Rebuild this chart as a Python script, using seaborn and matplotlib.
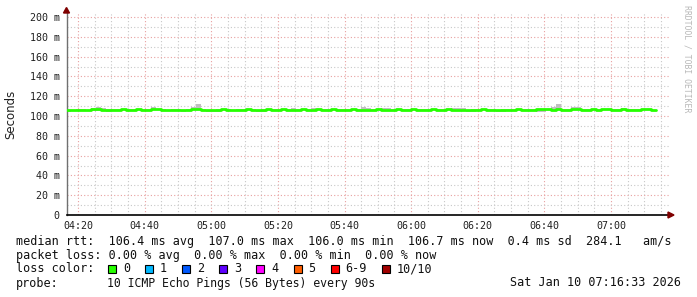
import matplotlib
matplotlib.use("Agg")
import matplotlib.pyplot as plt
import seaborn as sns
import pandas as pd
import numpy as np
from matplotlib.patches import Rectangle, Polygon

# ---------------- data ----------------
start_minute = 256.5          # 04:16:30, minutes since midnight
step_minutes = 1.5            # 90 s probe interval

median_ms = [
    106.2, 105.9, 106.4, 106.5, 106.1, 106.6, 106.6, 106.5, 106.2, 106.5,
    106.3, 106.6, 106.2, 106.4, 106.6, 106.2, 106.4, 106.9, 106.6, 106.5,
    106.2, 106.4, 106.2, 106.1, 106.4, 106.6, 106.7, 106.3, 106.2, 106.1,
    106.5, 106.6, 106.4, 106.2, 106.5, 106.3, 106.6, 106.4, 106.0, 106.3,
    106.6, 106.5, 106.3, 106.7, 106.4, 106.5, 106.3, 106.6, 106.4, 106.3,
    106.6, 106.3, 106.5, 106.6, 106.3, 106.5, 106.3, 106.6, 106.4, 106.5,
    106.3, 106.4, 106.7, 106.5, 106.4, 106.3, 106.6, 106.3, 106.4, 106.6,
    106.5, 106.3, 106.5, 106.7, 106.4, 106.3, 106.6, 106.5, 106.3, 106.4,
    106.2, 106.5, 106.4, 106.6, 106.4, 106.5, 106.2, 106.4, 106.5, 106.3,
    106.6, 106.4, 106.5, 106.3, 106.7, 106.7, 106.6, 106.5, 106.6, 106.4,
    106.5, 106.6, 106.6, 106.5, 106.4, 106.6, 106.5, 106.6, 106.7, 106.4,
    106.5, 106.6, 106.4, 106.3, 106.5, 106.6, 106.7, 106.2,
]

smoke_up_ms = [
    0.3, 0.3, 0.4, 0.3, 0.3, 1.9, 2.0, 1.9, 0.4, 0.3,
    0.3, 0.3, 0.4, 0.3, 0.3, 0.4, 0.3, 2.1, 0.5, 0.3,
    0.3, 0.3, 0.4, 0.3, 0.3, 2.8, 5.6, 0.4, 0.3, 0.3,
    0.3, 0.4, 0.3, 0.3, 0.3, 0.4, 0.3, 0.3, 0.3, 0.4,
    0.3, 0.3, 0.4, 0.3, 0.3, 2.0, 0.4, 0.3, 0.3, 2.0,
    0.3, 0.4, 0.3, 0.3, 0.3, 0.4, 0.3, 0.3, 0.3, 2.2,
    2.0, 0.3, 0.3, 1.9, 1.9, 0.3, 0.3, 0.4, 0.3, 0.3,
    0.3, 0.4, 0.3, 0.3, 0.3, 0.4, 0.3, 2.0, 2.0, 1.9,
    0.3, 0.3, 0.4, 0.3, 0.3, 0.4, 0.3, 0.3, 0.3, 0.3,
    0.3, 0.4, 0.3, 0.3, 0.3, 0.3, 0.4, 2.4, 5.4, 0.4,
    0.3, 2.0, 2.0, 0.3, 0.3, 0.4, 0.3, 0.3, 0.3, 0.3,
    0.3, 1.9, 0.3, 0.3, 0.4, 0.3, 0.3, 0.3,
]

smoke_down_ms = [
    2.2, 0.3, 0.3, 0.3, 0.3, 1.8, 1.8, 1.8, 1.8, 0.3,
    0.3, 0.3, 0.3, 0.3, 0.3, 0.3, 0.3, 0.3, 0.3, 0.3,
    0.3, 0.3, 0.3, 2.5, 0.3, 0.3, 0.3, 0.3, 2.4, 2.4,
    2.4, 0.3, 0.3, 0.3, 0.3, 0.3, 0.3, 0.3, 2.2, 2.2,
    0.3, 0.3, 0.3, 0.3, 0.3, 0.3, 0.3, 0.3, 0.3, 0.3,
    0.3, 0.3, 0.3, 0.3, 0.3, 0.3, 0.3, 0.3, 0.3, 0.3,
    0.3, 0.3, 0.3, 0.3, 0.3, 0.3, 0.3, 0.3, 0.3, 0.3,
    0.3, 0.3, 0.3, 0.3, 0.3, 0.3, 0.3, 0.3, 0.3, 0.3,
    2.5, 2.5, 0.3, 0.3, 0.3, 0.3, 2.4, 2.4, 0.3, 0.3,
    0.3, 0.3, 0.3, 0.3, 2.3, 2.3, 0.3, 0.3, 0.3, 0.3,
    0.3, 0.3, 0.3, 0.3, 0.3, 0.3, 0.3, 0.3, 0.3, 0.3,
    0.3, 0.3, 0.3, 0.3, 0.3, 0.3, 0.3, 0.3,
]

x_tick_minutes = [260, 280, 300, 320, 340, 360, 380, 400, 420]
x_tick_labels = ["04:20", "04:40", "05:00", "05:20", "05:40",
                 "06:00", "06:20", "06:40", "07:00"]
y_tick_values = [0, 20, 40, 60, 80, 100, 120, 140, 160, 180, 200]
y_tick_labels = ["0", "20 m", "40 m", "60 m", "80 m", "100 m",
                 "120 m", "140 m", "160 m", "180 m", "200 m"]

loss_labels = ["0", "1", "2", "3", "4", "5", "6-9", "10/10"]
loss_colors = ["#26ff00", "#00b8ff", "#0059ff", "#5e00ff",
               "#ff00fe", "#ff5f00", "#ff0000", "#a10000"]

line_rtt = ("median rtt:  106.4 ms avg  107.0 ms max  106.0 ms min  "
            "106.7 ms now  0.4 ms sd  284.1   am/s")
line_loss = "packet loss: 0.00 % avg  0.00 % max  0.00 % min  0.00 % now"
probe_head = "probe:"
probe_text = "10 ICMP Echo Pings (56 Bytes) every 90s"
stamp = "Sat Jan 10 07:16:33 2026"

# -------------- frame ---------------
n = len(median_ms)
edges = start_minute + step_minutes * np.arange(n + 1)
med = np.array(median_ms + [median_ms[-1]])
hi = med + np.array(smoke_up_ms + [smoke_up_ms[-1]])
lo = med - np.array(smoke_down_ms + [smoke_down_ms[-1]])
df = pd.DataFrame({"minute": edges, "median": med})

sns.set_style("white")
plt.rcParams['font.family'] = ['DejaVu Sans Mono', 'DejaVu Sans']

W, H = 697, 297
fig = plt.figure(figsize=(W / 100, H / 100), dpi=100)
fig.patch.set_facecolor("white")

L, R, B, T = 66.5, 669, 215, 13
ax = fig.add_axes([L / W, 1 - B / H, (R - L) / W, (B - T) / H])
ax.set_facecolor("white")

ppm = 533 / 160.0
xmin = 260 - (78 - L) / ppm
xmax = 260 + (R - 78) / ppm
ax.set_xlim(xmin, xmax)
ax.set_ylim(0, (B - T) / 0.99)

# smoke
ax.fill_between(edges, lo, hi, step="post", color="#c0c0c0", lw=0, zorder=2)
# median line
sns.lineplot(data=df, x="minute", y="median", ax=ax, drawstyle="steps-post",
             color="#26ff00", lw=2.0, zorder=3, estimator=None)

# grid
ax.set_xticks(x_tick_minutes)
ax.set_xticklabels(x_tick_labels)
ax.set_xticks(np.arange(260, 440, 5), minor=True)
ax.set_yticks(y_tick_values)
ax.set_yticklabels(y_tick_labels)
ax.set_yticks(np.arange(0, 201, 10), minor=True)
dots = (0, (1, 2))
ax.grid(which="minor", color="#c8c8c8", linestyle=dots, lw=0.8, zorder=0)
ax.grid(which="major", color="#e8a0a0", linestyle=dots, lw=0.8, zorder=1)
ax.set_axisbelow(True)

ax.tick_params(axis="both", which="both", length=0, labelsize=7.2,
               labelcolor="#202020")
ax.tick_params(axis="y", pad=5)
ax.tick_params(axis="x", pad=4)
ax.set_xlabel("")
ax.set_ylabel("")

for s in ["top", "right"]:
    ax.spines[s].set_visible(False)
ax.spines["left"].set_color("#707070")
ax.spines["left"].set_linewidth(1.0)
ax.spines["bottom"].set_color("black")
ax.spines["bottom"].set_linewidth(1.2)


def px(x, y):
    return (x / W, 1 - y / H)


fig.add_artist(Polygon([px(63.5, 13), px(69.5, 13), px(66.5, 7.5)],
                       closed=True, color="#7f0000", transform=fig.transFigure))
fig.add_artist(Polygon([px(668, 212), px(668, 218), px(674, 215)],
                       closed=True, color="#7f0000", transform=fig.transFigure))

# labels
fig.text(11 / W, 1 - 114 / H, "Seconds", rotation=90, family="DejaVu Sans",
         fontsize=8.5, va="center", ha="center", color="#202020")
fig.text(687 / W, 1 - 5 / H, "RRDTOOL / TOBI OETIKER", rotation=270,
         family="DejaVu Sans Mono", fontsize=5.9, va="top", ha="center",
         color="#b8b8b8")

mono = dict(family="DejaVu Sans Mono", fontsize=8.5, va="center", ha="left",
            color="#101010")
fig.text(16 / W, 1 - 241.5 / H, line_rtt, **mono)
fig.text(16 / W, 1 - 255.5 / H, line_loss, **mono)
fig.text(16 / W, 1 - 269 / H, "loss color:", **mono)
fig.text(16 / W, 1 - 283 / H, probe_head, **mono)
fig.text(107 / W, 1 - 283 / H, probe_text, **{**mono, "fontsize": 8.3})
fig.text(681 / W, 1 - 283 / H, stamp, **{**mono, "ha": "right"})

cw = 7.1
xpos = 108
for lab, col in zip(loss_labels, loss_colors):
    fig.add_artist(Rectangle(px(xpos, 273), 8 / W, 8 / H, facecolor=col,
                             edgecolor="black", lw=0.8,
                             transform=fig.transFigure))
    fig.text((xpos + 15) / W, 1 - 269 / H, lab, **mono)
    xpos = xpos + 15 + len(lab) * cw + 15

fig.savefig("out.png", dpi=100, facecolor="white")
